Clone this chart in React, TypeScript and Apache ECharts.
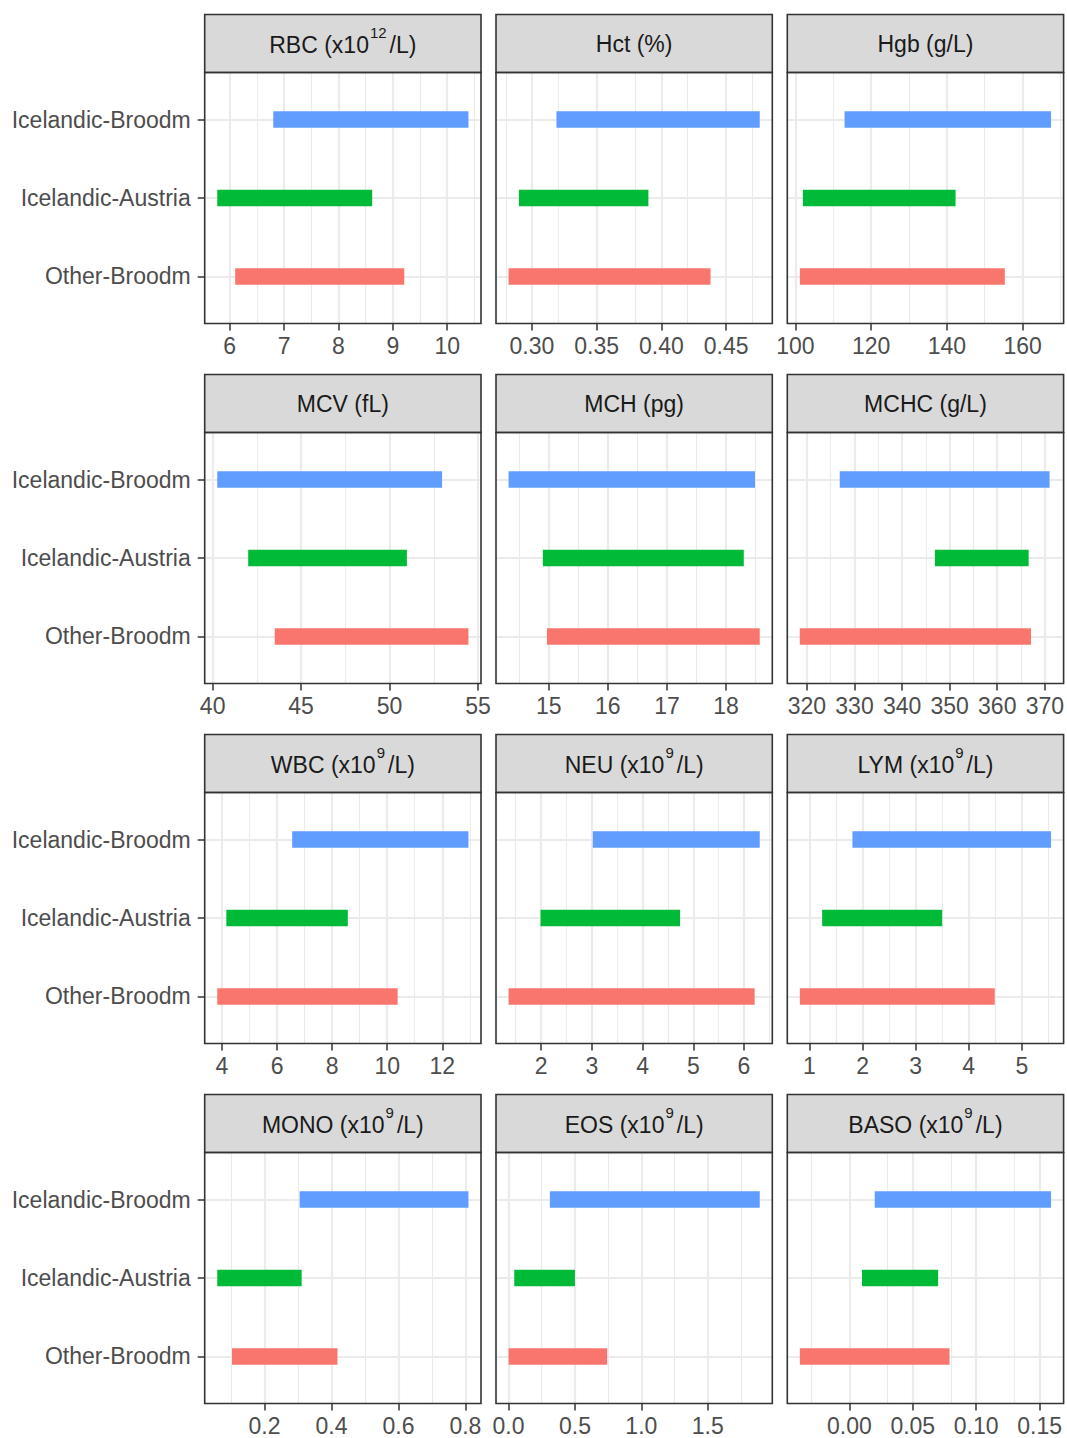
import React, { useEffect, useRef } from "react";
import * as echarts from "echarts";

// ---------- data ----------
const categories = ["Other-Broodm", "Icelandic-Austria", "Icelandic-Broodm"]; // y = 1, 2, 3
const categoryColors = ["#F8766D", "#00BA38", "#619CFF"];

const titlePrefix = ["RBC (x10", "Hct (%)", "Hgb (g/L)", "MCV (fL)", "MCH (pg)", "MCHC (g/L)", "WBC (x10", "NEU (x10", "LYM (x10", "MONO (x10", "EOS (x10", "BASO (x10"];
const titleSuperscript = ["12", "", "", "", "", "", "9", "9", "9", "9", "9", "9"];
const titleSuffix = ["/L)", "", "", "", "", "", "/L)", "/L)", "/L)", "/L)", "/L)", "/L)"];

const icelandicBroodmLow = [6.8, 0.319, 113.0, 40.26, 14.32, 326.9, 6.55, 3.02, 1.81, 0.305, 0.311, 0.020];
const icelandicBroodmHigh = [10.39, 0.476, 167.5, 52.97, 18.49, 371.0, 12.95, 6.31, 5.55, 0.809, 1.892, 0.159];
const icelandicAustriaLow = [5.77, 0.29, 102.0, 42.01, 14.9, 346.9, 4.16, 1.99, 1.24, 0.059, 0.043, 0.010];
const icelandicAustriaHigh = [8.62, 0.39, 142.3, 50.98, 18.3, 366.6, 8.57, 4.74, 3.5, 0.311, 0.5, 0.070];
const otherBroodmLow = [6.1, 0.282, 101.2, 43.51, 14.97, 318.5, 3.83, 1.36, 0.82, 0.103, 0.0, -0.039];
const otherBroodmHigh = [9.21, 0.438, 155.3, 54.46, 18.57, 367.1, 10.38, 6.21, 4.49, 0.418, 0.743, 0.079];

const majorTicks = [
  [6, 7, 8, 9, 10],
  [0.3, 0.35, 0.4, 0.45],
  [100, 120, 140, 160],
  [40, 45, 50, 55],
  [15, 16, 17, 18],
  [320, 330, 340, 350, 360, 370],
  [4, 6, 8, 10, 12],
  [2, 3, 4, 5, 6],
  [1, 2, 3, 4, 5],
  [0.2, 0.4, 0.6, 0.8],
  [0, 0.5, 1, 1.5],
  [0, 0.05, 0.1, 0.15],
];
const tickDecimals = [0, 2, 0, 0, 0, 0, 0, 0, 0, 1, 1, 2];

// ---------- layout ----------
const W = 1067;
const H = 1438;
const PANEL_LEFT0 = 204.7;
const COL_STEP = 291.3;
const PANEL_W = 276.3;
const STRIP_TOP0 = 14.5;
const ROW_STEP = 360;
const STRIP_H = 58;
const PANEL_H = 251;
const FONT = "'Liberation Sans', Arial, Helvetica, sans-serif";
const BAR_THICKNESS = 0.21;

export default function App() {
  const ref = useRef<HTMLDivElement>(null);

  useEffect(() => {
    document.body.style.margin = "0";
    if (!ref.current) return;
    const chart = echarts.init(ref.current, undefined, { renderer: "svg" });

    const grids: any[] = [];
    const xAxes: any[] = [];
    const yAxes: any[] = [];
    const series: any[] = [];
    const graphics: any[] = [];

    for (let i = 0; i < 12; i++) {
      const row = Math.floor(i / 3);
      const col = i % 3;
      const left = PANEL_LEFT0 + col * COL_STEP;
      const stripTop = STRIP_TOP0 + row * ROW_STEP;
      const top = stripTop + STRIP_H;

      const lows = [otherBroodmLow[i], icelandicAustriaLow[i], icelandicBroodmLow[i]];
      const highs = [otherBroodmHigh[i], icelandicAustriaHigh[i], icelandicBroodmHigh[i]];
      const dMin = Math.min(...lows);
      const dMax = Math.max(...highs);
      const pad = (dMax - dMin) * 0.05;
      const xMin = dMin - pad;
      const xMax = dMax + pad;

      const majors = majorTicks[i];
      const step = majors[1] - majors[0];
      const minors: number[] = [];
      for (let k = -1; k < majors.length; k++) {
        const v = majors[0] + (k + 0.5) * step;
        if (v > xMin && v < xMax) minors.push(v);
      }

      grids.push({ left, top, width: PANEL_W, height: PANEL_H, containLabel: false });

      xAxes.push({
        gridIndex: i,
        type: "value",
        min: xMin,
        max: xMax,
        axisLine: { show: false },
        axisTick: { show: true, customValues: majors, length: 7, lineStyle: { color: "#333333", width: 1.5 } },
        axisLabel: {
          customValues: majors,
          formatter: (v: number) => Number(v).toFixed(tickDecimals[i]),
          fontSize: 23,
          color: "#4D4D4D",
          fontFamily: FONT,
          margin: 11,
        },
        splitLine: { show: false },
      });

      yAxes.push({
        gridIndex: i,
        type: "value",
        min: 0.4,
        max: 3.6,
        axisLine: { show: false },
        axisTick: { show: col === 0, customValues: [1, 2, 3], length: 7, lineStyle: { color: "#333333", width: 1.5 } },
        axisLabel: {
          show: col === 0,
          customValues: [1, 2, 3],
          formatter: (v: number) => categories[Math.round(v) - 1],
          fontSize: 23,
          color: "#4D4D4D",
          fontFamily: FONT,
          margin: 14,
        },
        splitLine: { show: false },
      });

      const gridLines: any[] = [];
      minors.forEach((v) => gridLines.push({ xAxis: v, lineStyle: { color: "#EBEBEB", width: 1.1, type: "solid" } }));
      majors.forEach((v) => gridLines.push({ xAxis: v, lineStyle: { color: "#EBEBEB", width: 2.2, type: "solid" } }));
      [1, 2, 3].forEach((v) => gridLines.push({ yAxis: v, lineStyle: { color: "#EBEBEB", width: 2.2, type: "solid" } }));

      series.push({
        type: "custom",
        xAxisIndex: i,
        yAxisIndex: i,
        z: 2,
        encode: { x: [0, 1], y: 2 },
        data: [0, 1, 2].map((k) => [lows[k], highs[k], k + 1]),
        renderItem: (params: any, api: any) => {
          const lo = api.value(0);
          const hi = api.value(1);
          const y = api.value(2);
          const p0 = api.coord([lo, y]);
          const p1 = api.coord([hi, y]);
          const h = api.size([0, BAR_THICKNESS])[1];
          return {
            type: "rect",
            shape: { x: p0[0], y: p0[1] - h / 2, width: p1[0] - p0[0], height: h },
            style: { fill: categoryColors[params.dataIndex] },
          };
        },
        markLine: {
          silent: true,
          z: 1,
          symbol: ["none", "none"],
          label: { show: false },
          emphasis: { disabled: true },
          animation: false,
          data: gridLines,
        },
      });

      // strip
      graphics.push({
        type: "rect",
        shape: { x: left, y: stripTop, width: PANEL_W, height: STRIP_H },
        style: { fill: "#D9D9D9", stroke: "#333333", lineWidth: 1.6 },
        z: 100,
        silent: true,
      });
      const sup = titleSuperscript[i];
      const txt = sup
        ? `{a|${titlePrefix[i]}}{b|${sup}}{a|${titleSuffix[i]}}`
        : `{a|${titlePrefix[i]}}`;
      graphics.push({
        type: "text",
        x: left + PANEL_W / 2,
        y: stripTop + STRIP_H / 2 + (sup ? 1 : 0),
        z: 101,
        silent: true,
        style: {
          text: txt,
          align: "center",
          verticalAlign: "middle",
          fill: "#1A1A1A",
          fontFamily: FONT,
          rich: {
            a: { fontSize: 23, lineHeight: 39, verticalAlign: "middle", fill: "#1A1A1A", fontFamily: FONT },
            b: { fontSize: 15, lineHeight: 15, verticalAlign: "top", fill: "#1A1A1A", fontFamily: FONT, padding: [0, 3, 0, 1] },
          },
        },
      });
      // panel border
      graphics.push({
        type: "rect",
        shape: { x: left, y: top, width: PANEL_W, height: PANEL_H },
        style: { fill: "none", stroke: "#333333", lineWidth: 1.6 },
        z: 100,
        silent: true,
      });
    }

    chart.setOption({
      animation: false,
      backgroundColor: "#FFFFFF",
      grid: grids,
      xAxis: xAxes,
      yAxis: yAxes,
      series,
      graphic: { elements: graphics },
    });

    return () => chart.dispose();
  }, []);

  return <div ref={ref} style={{ width: W, height: H }} />;
}
